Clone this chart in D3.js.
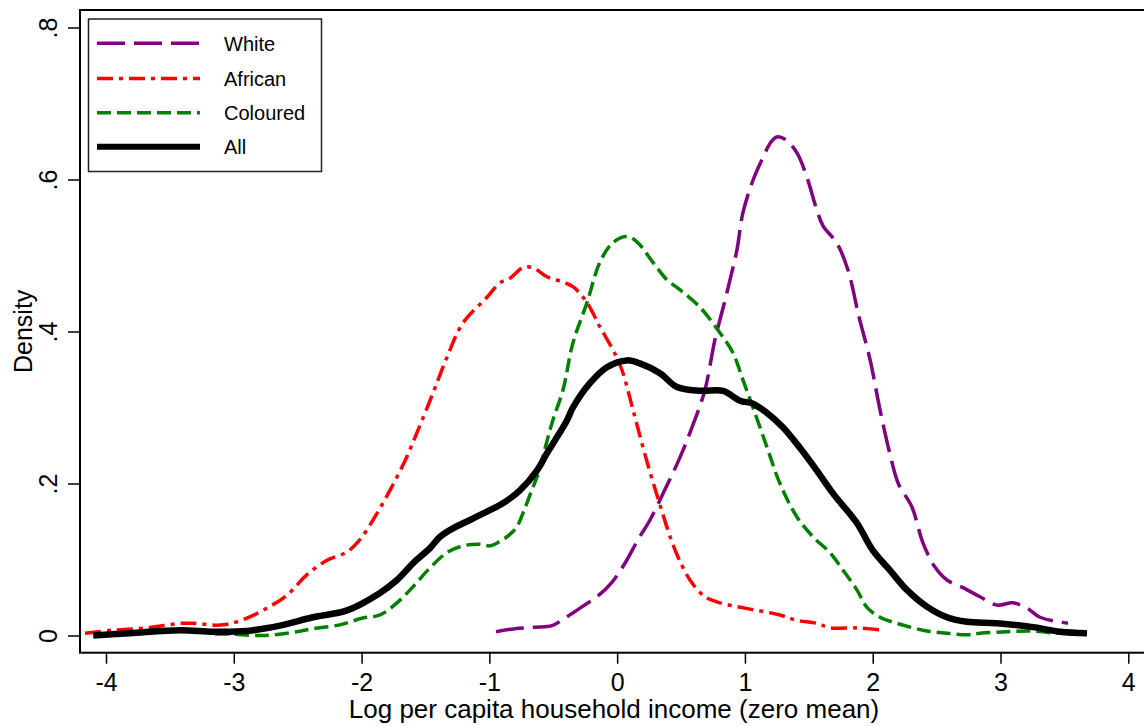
<!DOCTYPE html>
<html>
<head>
<meta charset="utf-8">
<script src="https://cdn.jsdelivr.net/npm/d3@7"></script>
<style>
  body { margin: 0; background: #fff; }
  svg text { font-family: "Liberation Sans", Arial, sans-serif; fill: #000; }
</style>
</head>
<body>
<div id="chart"></div>
<script>
// Kernel density curves: [log income, density]
const whitePts = [
  [-0.948,0.005],[-0.8,0.009],[-0.643,0.011],[-0.51,0.013],[-0.408,0.023],[-0.291,0.036],
  [-0.15,0.052],[-0.041,0.07],[0.061,0.095],[0.163,0.126],[0.257,0.152],[0.374,0.192],
  [0.491,0.234],[0.593,0.277],[0.687,0.323],[0.765,0.389],[0.844,0.441],[0.883,0.468],
  [0.937,0.507],[0.984,0.556],[1.063,0.599],[1.133,0.626],[1.203,0.649],[1.25,0.656],
  [1.313,0.653],[1.407,0.635],[1.485,0.603],[1.564,0.559],[1.611,0.539],[1.72,0.516],
  [1.806,0.481],[1.893,0.419],[1.979,0.363],[2.057,0.297],[2.136,0.238],[2.2,0.2],
  [2.307,0.169],[2.393,0.122],[2.487,0.09],[2.581,0.073],[2.706,0.063],[2.839,0.051],
  [2.972,0.04],[3.097,0.043],[3.207,0.036],[3.309,0.024],[3.528,0.016]
];
const africanPts = [
  [-4.164,0.003],[-3.945,0.007],[-3.679,0.01],[-3.421,0.016],[-3.319,0.016],[-3.084,0.014],
  [-2.897,0.023],[-2.74,0.036],[-2.584,0.053],[-2.427,0.08],[-2.271,0.099],[-2.114,0.11],
  [-2.013,0.126],[-1.896,0.156],[-1.778,0.191],[-1.66,0.23],[-1.559,0.27],[-1.441,0.319],
  [-1.332,0.366],[-1.207,0.411],[-1.019,0.445],[-0.917,0.464],[-0.839,0.47],[-0.737,0.484],
  [-0.659,0.484],[-0.549,0.472],[-0.424,0.465],[-0.346,0.459],[-0.236,0.438],[-0.135,0.406],
  [-0.033,0.376],[0.038,0.349],[0.124,0.297],[0.218,0.238],[0.335,0.172],[0.452,0.113],
  [0.57,0.073],[0.687,0.051],[0.804,0.043],[1.0,0.036],[1.274,0.027],[1.407,0.02],
  [1.564,0.016],[1.665,0.01],[1.876,0.01],[2.08,0.007]
];
const colouredPts = [
  [-3.147,0.002],[-3.03,0.002],[-2.77,0.0],[-2.505,0.005],[-2.38,0.009],[-2.17,0.014],
  [-1.99,0.023],[-1.856,0.027],[-1.723,0.043],[-1.598,0.064],[-1.465,0.089],[-1.332,0.109],
  [-1.207,0.118],[-1.074,0.12],[-0.996,0.118],[-0.917,0.124],[-0.839,0.133],[-0.784,0.143],
  [-0.737,0.161],[-0.682,0.185],[-0.627,0.209],[-0.58,0.236],[-0.541,0.261],[-0.502,0.284],
  [-0.424,0.323],[-0.346,0.385],[-0.236,0.438],[-0.135,0.491],[-0.033,0.517],[0.077,0.525],
  [0.155,0.518],[0.28,0.491],[0.39,0.468],[0.491,0.455],[0.648,0.432],[0.805,0.398],
  [0.906,0.372],[0.985,0.336],[1.063,0.3],[1.172,0.248],[1.274,0.2],[1.407,0.156],
  [1.532,0.13],[1.665,0.109],[1.767,0.086],[1.876,0.06],[1.955,0.037],[2.057,0.024],
  [2.19,0.016],[2.393,0.007],[2.581,0.003],[2.737,0.001],[2.839,0.003],[3.05,0.005],
  [3.254,0.006],[3.442,0.003],[3.544,0.005]
];
const allPts = [
  [-4.1,0.0],[-3.81,0.003],[-3.421,0.007],[-3.163,0.005],[-2.897,0.006],[-2.639,0.013],
  [-2.38,0.024],[-2.114,0.033],[-1.856,0.056],[-1.723,0.073],[-1.598,0.095],[-1.465,0.115],
  [-1.386,0.13],[-1.285,0.141],[-1.152,0.152],[-1.019,0.163],[-0.894,0.174],[-0.761,0.191],
  [-0.628,0.217],[-0.549,0.24],[-0.471,0.261],[-0.393,0.283],[-0.346,0.3],[-0.213,0.332],
  [-0.08,0.353],[0.077,0.362],[0.178,0.358],[0.335,0.345],[0.468,0.327],[0.648,0.322],
  [0.828,0.322],[0.961,0.309],[1.063,0.305],[1.172,0.293],[1.297,0.274],[1.43,0.247],
  [1.563,0.217],[1.689,0.187],[1.876,0.148],[2.001,0.112],[2.134,0.086],[2.267,0.06],
  [2.424,0.038],[2.581,0.024],[2.737,0.018],[2.972,0.016],[3.254,0.011],[3.466,0.005],
  [3.677,0.003]
];

const seriesNames = ["White", "African", "Coloured", "All"];
const xTicks = [-4, -3, -2, -1, 0, 1, 2, 3, 4];
const yTicks = [0, 0.2, 0.4, 0.6, 0.8];

const W = 1144, H = 726;
// plot region (frame runs off the right edge)
const plot = { left: 80, top: 10, bottom: 652.7 };

const svg = d3.select("#chart").append("svg")
  .attr("width", W).attr("height", H);

const x = d3.scaleLinear().domain([-4, 4]).range([106, 1128.3]);
const y = d3.scaleLinear().domain([0, 0.8]).range([635.5, 27.5]);

// line styles per series
const styles = {
  White:    { data: whitePts,    color: "#800080", width: 3.5, dash: "28,9" },
  African:  { data: africanPts,  color: "#ff0000", width: 3.5, dash: "16,6,4,6" },
  Coloured: { data: colouredPts, color: "#008000", width: 3.5, dash: "14,6" },
  All:      { data: allPts,      color: "#000000", width: 6.5, dash: null }
};

// frame
svg.append("rect")
  .attr("x", plot.left).attr("y", plot.top)
  .attr("width", 1100).attr("height", plot.bottom - plot.top)
  .attr("fill", "none").attr("stroke", "#000").attr("stroke-width", 2);

// x axis
const gx = svg.append("g")
  .attr("transform", `translate(0,${plot.bottom})`)
  .call(d3.axisBottom(x).tickValues(xTicks).tickSize(11).tickPadding(10)
          .tickFormat(d => String(d)));
gx.select(".domain").remove();
gx.selectAll(".tick line").attr("stroke", "#000").attr("stroke-width", 1.5);
gx.selectAll(".tick text")
  .style("font-size", "25px")
  .attr("fill", "#000");

// y axis
const gy = svg.append("g")
  .attr("transform", `translate(${plot.left},0)`)
  .call(d3.axisLeft(y).tickValues(yTicks).tickSize(12)
          .tickFormat(d => d === 0 ? "0" : String(d).replace("0.", ".")));
gy.select(".domain").remove();
gy.selectAll(".tick line").attr("stroke", "#000").attr("stroke-width", 1.5);
gy.selectAll(".tick text")
  .attr("x", null).attr("dy", null)
  .attr("text-anchor", "middle")
  .attr("transform", "translate(-23,0) rotate(-90)")
  .style("font-size", "25px")
  .attr("fill", "#000");

// axis titles
svg.append("text")
  .attr("x", 614).attr("y", 718)
  .attr("text-anchor", "middle")
  .style("font-size", "26px")
  .text("Log per capita household income (zero mean)");

svg.append("text")
  .attr("transform", `translate(32,${(plot.top + plot.bottom) / 2}) rotate(-90)`)
  .attr("text-anchor", "middle")
  .style("font-size", "25px")
  .text("Density");

// curves
const line = d3.line()
  .x(d => x(d[0]))
  .y(d => y(d[1]))
  .curve(d3.curveCatmullRom.alpha(0.5));

seriesNames.forEach(name => {
  const s = styles[name];
  svg.append("path")
    .datum(s.data)
    .attr("fill", "none")
    .attr("stroke", s.color)
    .attr("stroke-width", s.width)
    .attr("stroke-dasharray", s.dash)
    .attr("stroke-linejoin", "round")
    .attr("d", line);
});

// legend
const leg = svg.append("g");
leg.append("rect")
  .attr("x", 88.5).attr("y", 19)
  .attr("width", 233).attr("height", 152.5)
  .attr("fill", "#fff").attr("stroke", "#222").attr("stroke-width", 1.5);

const legRowY = [43.3, 78.5, 112.7, 146.7];
seriesNames.forEach((name, i) => {
  const s = styles[name];
  leg.append("line")
    .attr("x1", 97).attr("x2", 200)
    .attr("y1", legRowY[i]).attr("y2", legRowY[i])
    .attr("stroke", s.color)
    .attr("stroke-width", name === "All" ? 6 : 3.5)
    .attr("stroke-dasharray", s.dash);
  leg.append("text")
    .attr("x", 224).attr("y", legRowY[i] + 7.3)
    .style("font-size", "20px")
    .text(name);
});
</script>
</body>
</html>
